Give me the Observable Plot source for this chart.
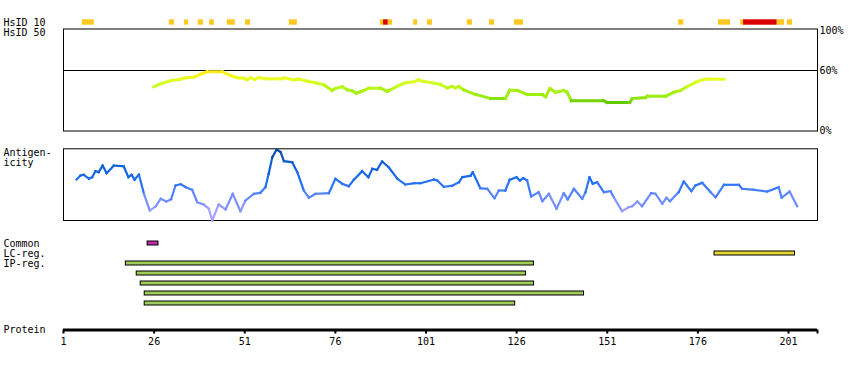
<!DOCTYPE html>
<html><head><meta charset="utf-8">
<script src="https://cdn.jsdelivr.net/npm/d3@7"></script>
<script src="https://cdn.jsdelivr.net/npm/@observablehq/plot@0.6"></script>
<style>
body{margin:0;background:#fff;}
#chart{position:relative;width:850px;height:370px;font-family:"DejaVu Sans Mono",monospace;}
#chart svg{position:absolute;left:0;}
</style></head><body><div id="chart"></div>
<script>
// ---- data ----
const residueDomain = [1, 209];
const tickValues = [1, 26, 51, 76, 101, 126, 151, 176, 201, 209];
const tickLabels = ["1", "26", "51", "76", "101", "126", "151", "176", "201", ""];

const hsidRows = ["HsID 10", "HsID 50"];
const hsid10Starts = [6.2,30.2,34.4,38.2,41.3,46.2,51.2,63.3,88.4,89.3,90.6,97.6,101.4,112.4,118.5,125.4,170.7,181.7,187.8,188.6,197.9,200.7];
const hsid10Ends   = [9.5,31.6,35.5,39.6,42.6,48.4,52.6,65.5,89.3,90.6,91.8,98.7,102.8,113.8,119.9,127.9,172.1,185.0,188.6,197.9,199.9,202.1];
const hsid10Levels = ["mid","mid","mid","mid","mid","mid","mid","mid","mid","high","mid","mid","mid","mid","mid","mid","mid","mid","mid","high","mid","mid"];

const hsid50Pos = [25.9,27.8,30.5,33.3,34.7,36.9,38.8,40.6,44.8,47.1,48.9,50.7,51.7,52.6,53.7,54.9,56.7,61.3,61.8,64.5,65.9,68.2,70.5,72.8,75.1,76.0,77.9,79.3,80.6,81.8,83.8,85.2,88.4,90.3,91.2,93.1,95.3,97.6,99.0,100.4,102.7,105.0,106.8,108.2,109.1,110.0,111.4,114.7,118.8,122.9,124.1,126.2,128.9,133.1,134.0,135.2,136.7,139.0,139.9,141.1,150.0,151.0,157.2,157.9,161.6,162.0,167.1,169.4,171.2,173.1,175.8,178.1,183.2];
const hsid50Val = [43.7,46.7,49.7,51.3,52.7,53.3,56.3,58.7,58.7,55,52.7,52.3,50.7,52.7,51,53,51.7,51.7,52.7,50.7,51.3,49.3,47.7,45.7,40,42,43.7,40.7,39.7,37.3,40,42.3,42.3,39.3,40.7,44.3,47.7,48.7,50.7,49,47.7,46,42.7,44,42.7,44,40.7,36,32,32,40.3,40,36,36,33.7,42,38.3,40,38.3,29.7,29.7,28,28,32,33,34.3,34.3,38.3,40,44,49,51.3,51.3];
const percentTicks = [0, 60, 100];

const antPos = [4.6,5.7,6.6,8.0,8.9,9.8,10.7,11.8,12.9,14.9,17.6,18.9,19.8,20.6,21.8,23.2,24.8,26.4,27.8,29.4,30.7,31.9,33.3,34.7,36.5,37.9,39.7,41.1,42.0,43.8,45.7,47.7,49.8,51.2,53.5,55.3,56.7,57.6,58.6,59.8,60.9,61.8,64.1,65.5,67.3,68.7,70.5,74.2,76.0,77.9,79.7,81.1,83.4,85.1,86.2,87.5,88.9,90.7,93.1,95.3,97.6,99.5,103.2,104.1,105.9,108.2,110.1,111.0,113.3,113.9,116.0,117.9,119.9,121.1,122.9,124.1,126.0,126.9,127.8,128.9,130.0,132.1,133.1,134.9,137.0,139.0,140.1,141.8,144.1,145.0,146.1,147.0,148.2,150.1,151.9,152.8,155.1,156.9,157.9,159.3,160.6,163.1,164.3,166.2,167.3,168.3,170.7,172.1,174.2,175.3,177.2,179.5,180.9,183.2,187.3,188.2,191.4,195.1,198.3,199.1,201.3,203.4];
const antVal = [57.2,62.8,63.7,58.2,60.4,68.8,67.4,76.7,66.0,76.7,75.7,60.4,63.7,56.8,64.2,37.2,13.9,19.5,30.3,26.5,29.7,48.8,50.6,46.4,42.8,25.5,22.3,16.3,0,22.3,15.3,37.2,13.0,27.9,37.2,38.6,46.4,65.1,88.3,99.0,95.3,82.7,81.3,67.4,41.8,31.7,37.2,38.1,58.2,51.2,47.8,56.8,68.8,60.4,72.1,70.7,82.3,74.3,58.2,50.2,52.0,52.0,57.2,55.8,47.0,48.4,53.4,60.4,62.3,67.4,45.0,44.2,31.1,41.8,41.8,56.8,60.4,55.8,59.0,55.8,33.5,39.5,26.9,37.2,16.3,38.1,29.3,44.2,30.3,39.5,60.4,51.2,53.4,39.5,40.9,32.5,13.0,18.5,19.9,26.5,19.9,38.1,37.2,23.3,31.7,26.9,39.5,54.4,40.9,48.8,52.6,39.5,32.5,49.8,49.8,44.2,42.8,40.4,46.4,31.7,40.4,19.9];

const regionRows = ["Common","LC-reg.","IP-reg. 1","IP-reg. 2","IP-reg. 3","IP-reg. 4","IP-reg. 5"];
const regionRowLabels = ["Common","LC-reg.","IP-reg."];
const commonStarts = [24.2], commonEnds = [27.2];
const lcStarts = [180.6], lcEnds = [202.8];
const ipStarts = [18.2, 21.2, 22.3, 23.4, 23.4];
const ipEnds = [130.8, 128.6, 130.8, 144.6, 125.6];

// ---- helpers ----
const FONT = "DejaVu Sans Mono";
const baseStyle = {background: "transparent", overflow: "visible", fontFamily: FONT, fontSize: "10px", color: "black"};
const chart = document.getElementById("chart");
function place(svg, top) { svg.style.top = top + "px"; chart.appendChild(svg); }
function segments(pos, val) {
  const s = [];
  for (let i = 0; i < pos.length - 1; i++) s.push({x1: pos[i], y1: val[i], x2: pos[i+1], y2: val[i+1], v: (val[i] + val[i+1]) / 2});
  return s;
}
const common = {width: 850, marginLeft: 63, marginRight: 33, style: baseStyle};

// ---- HsID 10 / 50 row ----
const hsidData = hsid10Starts.map((s, i) => ({start: s, end: hsid10Ends[i], level: hsid10Levels[i], row: "HsID 10"}));
place(Plot.plot({
  ...common, height: 40, marginTop: 17, marginBottom: 3,
  x: {domain: residueDomain, axis: null},
  y: {type: "band", domain: hsidRows, padding: 0, axis: null},
  color: {domain: ["mid", "high"], range: ["#ffc81e", "#dd0000"]},
  marks: [
    Plot.barX(hsidData, {x1: "start", x2: "end", y: "row", fill: "level", insetTop: 2.3, insetBottom: 2.3}),
    Plot.text(hsidRows, {y: d => d, text: d => d, frameAnchor: "left", dx: -60, textAnchor: "start", fill: "black"})
  ]
}), 0);

// ---- HsID 50 identity panel ----
place(Plot.plot({
  ...common, height: 140, marginTop: 28.5, marginBottom: 9.5,
  x: {domain: residueDomain, axis: null},
  y: {domain: [0, 100], range: [130, 30]},
  color: {type: "linear", domain: [28, 34, 40, 46, 52, 58], range: ["#66c800", "#99ee11", "#aaf011", "#ccff22", "#e8ff22", "#ffee22"], interpolate: "rgb"},
  marks: [
    Plot.frame({stroke: "black"}),
    Plot.ruleY([60], {stroke: "black"}),
    Plot.link(segments(hsid50Pos, hsid50Val), {x1: "x1", y1: "y1", x2: "x2", y2: "y2", stroke: "v", strokeWidth: 3, strokeLinecap: "square"}),
    Plot.axisY({anchor: "right", ticks: percentTicks, tickSize: 0, tickPadding: 2, tickFormat: d => d + "%", fill: "black"})
  ]
}), 0);

// ---- Antigenicity panel ----
place(Plot.plot({
  ...common, height: 90, marginTop: 8.3, marginBottom: 10,
  x: {domain: residueDomain, axis: null},
  y: {domain: [0, 100], axis: null},
  color: {type: "linear", domain: [0, 15, 35, 55, 80, 100], range: ["#b4aaff", "#9f9cff", "#5a86ff", "#1f6ff0", "#0c5ed0", "#0a4595"], interpolate: "rgb"},
  marks: [
    Plot.frame({stroke: "black"}),
    Plot.link(segments(antPos, antVal), {x1: "x1", y1: "y1", x2: "x2", y2: "y2", stroke: "v", strokeWidth: 2.2, strokeLinecap: "square"}),
    Plot.text(["Antigen-\nicity"], {text: d => d, frameAnchor: "top-left", dx: -60, dy: 0, textAnchor: "start", lineAnchor: "top", lineHeight: 1, fill: "black"})
  ]
}), 140);

// ---- Region bars ----
const regionData = [
  ...commonStarts.map((s, i) => ({row: "Common", start: s, end: commonEnds[i], kind: "common"})),
  ...lcStarts.map((s, i) => ({row: "LC-reg.", start: s, end: lcEnds[i], kind: "lc"})),
  ...ipStarts.map((s, i) => ({row: regionRows[2 + i], start: s, end: ipEnds[i], kind: "ip"}))
];
place(Plot.plot({
  ...common, height: 80, marginTop: 7.5, marginBottom: 2.5,
  x: {domain: residueDomain, axis: null},
  y: {type: "band", domain: regionRows, padding: 0, axis: null},
  color: {domain: ["common", "lc", "ip"], range: ["#c42aa6", "#e8d832", "#9fcb58"]},
  marks: [
    Plot.barX(regionData, {x1: "start", x2: "end", y: "row", fill: "kind", stroke: "black", strokeWidth: 1, insetTop: 3, insetBottom: 3}),
    Plot.text(regionRowLabels, {y: (d, i) => regionRows[i], text: d => d, frameAnchor: "left", dx: -60, textAnchor: "start", fill: "black"})
  ]
}), 230);

// ---- Protein axis ----
const labelMap = new Map(tickValues.map((t, i) => [t, tickLabels[i]]));
place(Plot.plot({
  ...common, height: 50, marginTop: 10, marginBottom: 30.5,
  x: {domain: residueDomain},
  y: {domain: [0, 1], axis: null},
  marks: [
    Plot.ruleY([0], {stroke: "black", strokeWidth: 3}),
    Plot.axisX({anchor: "bottom", ticks: tickValues, tickFormat: d => labelMap.get(d), tickSize: 4, tickPadding: 4, strokeWidth: 2, stroke: "black", fill: "black"}),
    Plot.text(["Protein"], {text: d => d, frameAnchor: "bottom-left", dx: -60, textAnchor: "start", lineAnchor: "middle", fill: "black"})
  ]
}), 310);
</script></body></html>
